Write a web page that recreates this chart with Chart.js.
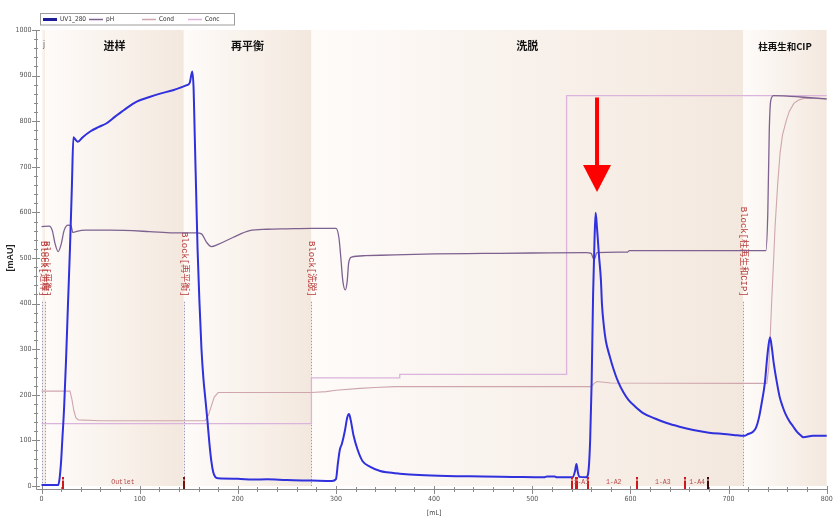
<!DOCTYPE html>
<html><head><meta charset="utf-8">
<script src="https://cdn.jsdelivr.net/npm/chart.js@4.4.1/dist/chart.umd.min.js"></script>
<style>html,body{margin:0;padding:0;background:#fff;overflow:hidden;}canvas{display:block;}</style>
</head><body>
<canvas id="c" width="837" height="526"></canvas>
<script>
// ---------- data (x = mL, y = mAU) ----------
const uv280 = [[0,2],[17,2],[18.5,18],[20,55],[21.2,101],[23,170],[25,276],[27,400],[29,520],[31,660],[32.5,765],[34.5,760],[37,755],[42,765],[50,778],[58,787],[66,795],[75,810],[85,826],[97,843],[110,853],[120,860],[134,868],[142,874],[148,879],[151,884],[153.6,909],[155,870],[156,780],[157.5,650],[159,520],[161,400],[163,300],[165,235],[167,190],[169,145],[171,95],[173,55],[175,30],[177,20],[180,17],[200,16],[215,14],[230,15],[250,13],[275,12],[296,11],[300,15],[302,50],[304,80],[306,92],[309,120],[311.5,150],[313.3,158],[315,145],[318,110],[322,80],[327,55],[335,42],[345,33],[352,30],[365,27],[385,24],[413,22],[450,21],[480,20],[512,19],[515,21],[523,21],[525,19],[541,19],[543.5,32],[545,48],[546.5,30],[548,20],[555,19],[557,28],[559,100],[560.5,226],[562,420],[563.5,545],[564.6,599],[566,565],[568,505],[570,450],[571,400],[573,350],[575,318],[579,284],[583,255],[588,226],[593,205],[598,189],[605,174],[613,160],[625,148],[637,138],[650,130],[664,123],[680,117],[695,114],[705,112],[716,110],[720,114],[725,119],[728,128],[731,150],[734,185],[737,226],[739.5,285],[742.2,326],[744,305],[746,270],[749,230],[752,196],[755,175],[758,158],[762,142],[766,130],[770,118],[774,110],[776,107],[786,110],[800,110]];
const pH = [[0,569],[8,570],[11,560],[14,530],[17,514],[20,530],[23,560],[27,572],[30,571],[32,556],[35,558],[45,561],[70,561],[110,558],[134,555],[158,555],[163,553],[168,535],[173,525],[180,530],[195,545],[212,560],[230,563],[250,564],[275,565],[300,565],[303,545],[305,500],[307,450],[309.5,430],[311.5,450],[313,490],[316,502],[330,505],[360,507],[400,509],[450,510],[500,511],[555,512],[560,510],[563,496],[566,512],[597,513],[599,516],[738,516],[740,600],[741.5,780],[743,845],[746,856],[760,855],[780,852],[800,849]];
const cond = [[0,208],[29,208],[31,190],[33,165],[35,150],[37.5,145],[60,143],[166.6,143],[170,155],[173,175],[176,195],[180,205],[275,205],[290,207],[300,210],[324.5,214],[340,216],[360,218],[560,218],[563,225],[566,229],[580,226],[717,225],[739,225],[741,260],[742.5,330],[744,408],[746,500],[747.4,569],[750,660],[752.5,730],[755,770],[759,803],[762,822],[766.5,839],[771,846],[776.5,850],[790,850],[800,848]];
const conc = [[0,137],[275,137],[275,237],[365,237],[365,245],[535,245],[535,856],[800,856]];
const seriesNames = ['UV1_280','pH','Cond','Conc'];

const phaseNames = ['j','进样','再平衡','洗脱','柱再生和CIP'];
const phaseBounds = [0,3.5,145,275,715,800];
const blockMarks = [0,4,145,275,715];
const blockNames = ['Block[进样]','Block[平衡]','Block[再平衡]','Block[洗脱]','Block[柱再生和CIP]'];
const fracMarks = [22,145,541,545,546,557,607,656,679];
const fracNames = ['Outlet','1-A1','1-A2','1-A3','1-A4'];
const fracNameAt = [83,550,583,633,668];
const peakArrow = [566,852,645]; // x, tail y, tip y (data units)

// ---------- styles ----------
const COLORS = ['#3030dc','#7d6290','#cfa6ad','#dab4dc'];
const WIDTHS = [2,1.3,1.1,1.3];
const NARROW = "'Liberation Sans Narrow','DejaVu Sans Condensed','Liberation Sans',sans-serif";
const MONO = "'Liberation Mono','DejaVu Sans Mono','Noto Sans CJK SC',monospace";
const CJK = "'Noto Sans CJK SC','Noto Sans',sans-serif";

function mk(i, pts, smooth){
  return {label: seriesNames[i], data: pts.map(p=>({x:p[0],y:p[1]})), borderColor: COLORS[i],
    borderWidth: WIDTHS[i], pointRadius:0, fill:false, tension:0,
    cubicInterpolationMode: smooth ? 'monotone' : 'default', clip:false};
}

const decor = {
  id:'decor',
  beforeDatasetsDraw(chart){
    const {ctx, chartArea:a, scales:{x,y}} = chart;
    ctx.save();
    for (let i=0;i<phaseNames.length;i++){
      const l = x.getPixelForValue(phaseBounds[i]), r = x.getPixelForValue(phaseBounds[i+1]);
      const g = ctx.createLinearGradient(l,0,r,0);
      g.addColorStop(0,'rgb(254,251,249)');
      g.addColorStop(1,'rgb(243,232,222)');
      ctx.fillStyle = g;
      ctx.fillRect(l, a.top, r-l, a.bottom-a.top);
    }
    ctx.textBaseline = 'middle';
    for (let i=0;i<phaseNames.length;i++){
      const l = x.getPixelForValue(phaseBounds[i]), r = x.getPixelForValue(phaseBounds[i+1]);
      const w = r - l;
      if (w < 20){
        ctx.font = "8px "+NARROW; ctx.textAlign='left'; ctx.fillStyle='#555';
        ctx.fillText(phaseNames[i], l+1.5, y.getPixelForValue(968));
      } else {
        ctx.font = "bold " + (w < 100 ? 9.5 : 11) + "px "+CJK; ctx.textAlign='center'; ctx.fillStyle='#111';
        ctx.fillText(phaseNames[i], (l+r)/2, y.getPixelForValue(965));
      }
    }
    for (let i=0;i<blockMarks.length;i++){
      const px = Math.round(x.getPixelForValue(blockMarks[i]))+0.5;
      const yEnd = y.getPixelForValue(415);
      ctx.strokeStyle = '#9a9ab8'; ctx.lineWidth = 1; ctx.setLineDash([1.5,1.5]);
      ctx.beginPath(); ctx.moveTo(px, yEnd+5); ctx.lineTo(px, y.getPixelForValue(0)); ctx.stroke();
      ctx.setLineDash([]);
      ctx.save();
      ctx.translate(px + (i<2?1:0), yEnd);
      ctx.rotate(Math.PI/2);
      ctx.font = "9px "+MONO;
      ctx.fillStyle = '#b83a3a';
      ctx.textAlign = 'right'; ctx.textBaseline = 'middle';
      ctx.fillText(blockNames[i], 0, 0);
      ctx.restore();
    }
    ctx.restore();
  },
  afterDraw(chart){
    const {ctx, chartArea:a, scales:{x,y}} = chart;
    ctx.save();
    const axX = 36.5, axY = 489.5;
    ctx.strokeStyle = '#8a8a8a'; ctx.lineWidth = 1;
    ctx.beginPath(); ctx.moveTo(axX, a.top); ctx.lineTo(axX, axY); ctx.lineTo(a.right+0.5, axY); ctx.stroke();
    for (let v=0; v<=1000; v+=20){
      const py = Math.round(y.getPixelForValue(v))+0.5;
      const major = v%100===0;
      ctx.beginPath(); ctx.moveTo(major?32:34, py); ctx.lineTo(major?40:38, py); ctx.stroke();
    }
    for (let v=0; v<=800; v+=20){
      const px = Math.round(x.getPixelForValue(v))+0.5;
      const major = v%100===0;
      ctx.beginPath(); ctx.moveTo(px, major?486:487); ctx.lineTo(px, major?494:492); ctx.stroke();
    }
    const dark = {145:'#7a0d0d', 679:'#3a0a0a'};
    const yb = y.getPixelForValue(0);
    for (const m of fracMarks){
      const px = Math.round(x.getPixelForValue(m));
      ctx.fillStyle = dark[m] || '#d01818';
      ctx.fillRect(px-1, yb-9, 2, 2.5);
      ctx.fillRect(px-1, yb-5.5, 2, 8.5);
    }
    ctx.font = "6.5px "+MONO;
    ctx.fillStyle = '#b44848';
    ctx.textAlign = 'center'; ctx.textBaseline = 'alphabetic';
    for (let i=0;i<fracNames.length;i++){
      ctx.fillText(fracNames[i], x.getPixelForValue(fracNameAt[i]), yb-2);
    }
    const ax = x.getPixelForValue(peakArrow[0]);
    const yT = y.getPixelForValue(peakArrow[1]), yTip = y.getPixelForValue(peakArrow[2]);
    const yHead = yTip - 27;
    ctx.fillStyle = '#ff0000';
    ctx.fillRect(ax-2, yT, 4, yHead-yT+1);
    ctx.beginPath(); ctx.moveTo(ax-14, yHead); ctx.lineTo(ax+14, yHead); ctx.lineTo(ax, yTip); ctx.closePath(); ctx.fill();
    // legend
    ctx.fillStyle = '#fff'; ctx.strokeStyle = '#9c9c9c'; ctx.lineWidth = 1;
    ctx.fillRect(40.5, 13.5, 194, 11.5); ctx.strokeRect(40.5, 13.5, 194, 11.5);
    const lx = [43, 89, 142, 188];
    ctx.font = "6.5px "+NARROW; ctx.textAlign='left'; ctx.textBaseline='middle';
    chart.data.datasets.forEach((d,i)=>{
      ctx.strokeStyle = i===0 ? '#1e1e98' : d.borderColor;
      ctx.lineWidth = i===0 ? 3 : 1.5;
      ctx.beginPath(); ctx.moveTo(lx[i], 19.5); ctx.lineTo(lx[i]+14, 19.5); ctx.stroke();
      ctx.fillStyle = '#333';
      ctx.fillText(d.label, lx[i]+17, 19.5);
    });
    ctx.restore();
  }
};

new Chart(document.getElementById('c'), {
  type:'line',
  data:{ datasets:[ mk(0,uv280,true), mk(1,pH,true), mk(2,cond,false), mk(3,conc,false) ] },
  options:{
    responsive:false, animation:false, devicePixelRatio:1,
    layout:{padding:{left:0.5,right:10.3,top:30,bottom:0}},
    plugins:{legend:{display:false}, tooltip:{enabled:false}, title:{display:false}},
    scales:{
      x:{type:'linear', min:0, max:800,
        afterFit:s=>{s.height=40; s.paddingLeft=0; s.paddingRight=0;},
        grid:{display:false, drawTicks:false}, border:{display:false},
        ticks:{stepSize:100, padding:9, color:'#555', font:{family:NARROW,size:7}, maxRotation:0, autoSkip:false, format:{useGrouping:false}},
        title:{display:true, text:'[mL]', color:'#444', font:{family:NARROW,size:7}, padding:{top:0,bottom:8.8}}
      },
      y:{type:'linear', min:0, max:1000,
        afterFit:s=>{s.width=41; s.paddingTop=0; s.paddingBottom=0;},
        grid:{display:false, drawTicks:false}, border:{display:false},
        ticks:{stepSize:100, padding:10, color:'#555', font:{family:NARROW,size:7}, format:{useGrouping:false}},
        title:{display:true, text:'[mAU]', color:'#222', font:{family:"'Liberation Sans',Arial,sans-serif",size:9,weight:'bold'}, padding:{top:4.6,bottom:0}}
      }
    }
  },
  plugins:[decor]
});
</script>
</body></html>
